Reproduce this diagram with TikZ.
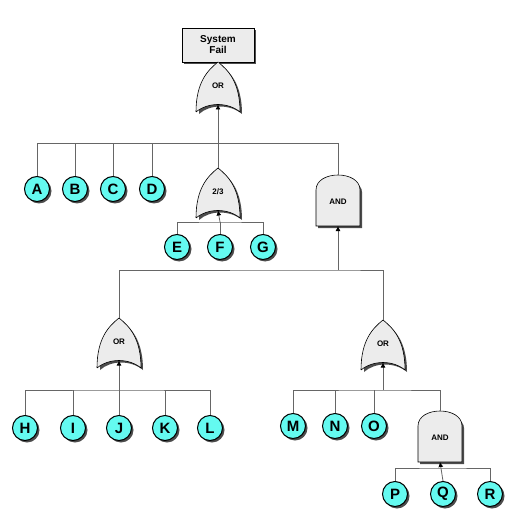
\documentclass[tikz,border=0pt]{standalone}
\usepackage{fontspec}
\setmainfont{Liberation Sans}
\usetikzlibrary{arrows.meta,positioning}
\definecolor{eventcyan}{RGB}{100,250,240}
\tikzset{
  wire/.style={draw=gray!80!black,line width=0.8pt},
  feed/.style={wire,-{Latex[length=5pt,width=5pt,black]}},
  event/.style={circle,minimum size=25pt,inner sep=0pt,fill=eventcyan,draw=black,line width=1pt,
    font=\bfseries\fontsize{15}{15}\selectfont},
  gatefill/.style={fill=gray!15,draw=black,line width=0.6pt},
  gatetext/.style={font=\bfseries\fontsize{8}{9}\selectfont,inner sep=0pt},
  pics/orgate/.style={code={
    \fill[gray!60!black] (-19,2) .. controls (-19,-28) and (-8,-40) .. (2,-48)
      .. controls (12,-40) and (24,-28) .. (24,2) .. controls (12,-8) and (-8,-8) .. (-19,2);
    \path[gatefill] (-22,0) .. controls (-22,-30) and (-10,-42) .. (0,-50)
      .. controls (10,-42) and (22,-30) .. (22,0) .. controls (10,-10) and (-10,-10) .. (-22,0);
    \node[gatetext] at (0,-26) {#1};
    \coordinate (-top) at (0,-50);
    \coordinate (-bot) at (0,-7.5);
  }},
  pics/andgate/.style={code={
    \fill[gray!60!black] (-20,2) -- (-20,-34) .. controls (-20,-50) and (24,-50) .. (24,-34) -- (24,2) -- cycle;
    \path[gatefill] (-22,0) -- (-22,-36) .. controls (-22,-56) and (22,-56) .. (22,-36) -- (22,0) -- cycle;
    \node[gatetext] at (0,-24) {#1};
    \coordinate (-top) at (0,-51);
    \coordinate (-bot) at (0,0);
  }}
}
\begin{document}
\begin{tikzpicture}[x=1pt,y=-1pt]
\useasboundingbox (0,0) rectangle (519,526);
% top event
\fill[gray!60!black] (184,30) rectangle (256,64);
\node[draw=black,fill=gray!15,minimum width=72pt,minimum height=34pt,inner sep=0pt,align=center,
  font=\bfseries\fontsize{10}{11}\selectfont] (top) at (218,45) {System\\Fail};
\pic (g1) at (218,112) {orgate=OR};
\pic (g2) at (218,218) {orgate=2/3};
\pic (g3) at (338,226) {andgate=AND};
\pic (g4) at (119,368) {orgate=OR};
\pic (g5) at (383,370) {orgate=OR};
\pic (g6) at (440,462) {andgate=AND};
% basic events
\foreach \n/\x/\y in {A/37/189,B/75/189,C/113/189,D/152/189,E/177/247,F/220/247,G/263/247,
  H/25/428,I/73/428,J/119/428,K/165/428,L/210/428,M/293/426,N/335/426,O/374/426,
  P/395/494,Q/443/494,R/490/494}{
  \fill[gray!60!black] (\x+2,\y+2) circle (12.5pt);
  \node[event] (\n) at (\x,\y) {\n};
}
% connectors
\draw[wire] (top) -- (g1-top);
\coordinate (b1) at (218,143);
\draw[feed] (b1) -- (g1-bot);
\draw[wire] (37,143) coordinate (b1l) -- (338,143) coordinate (b1r);
\foreach \n in {A,B,C,D}{\draw[wire] (\n.north) -- (\n.north |- b1l);}
\draw[wire] (b1) -- (g2-top);
\draw[wire] (b1r) -- (g3-top);
\coordinate (b2) at (220,222);
\draw[feed] (b2) -- (g2-bot);
\draw[wire] (E.north) |- (b2) -| (G.north);
\draw[wire] (F.north) -- (b2);
\coordinate (b3) at (338,270);
\draw[feed] (b3) -- (g3-bot);
\draw[wire] (g4-top) |- (b3) -| (g5-top);
\coordinate (b4) at (119,390);
\draw[feed] (J.north) -- (g4-bot);
\draw[wire] (H.north) |- (b4) -| (L.north);
\foreach \n in {I,K}{\draw[wire] (\n.north) -- (\n.north |- b4);}
\coordinate (b5) at (383,390);
\draw[feed] (b5) -- (g5-bot);
\draw[wire] (M.north) |- (b5) -| (g6-top);
\foreach \n in {N,O}{\draw[wire] (\n.north) -- (\n.north |- b5);}
\coordinate (b6) at (443,468);
\draw[feed] (Q.north) -- (g6-bot);
\draw[wire] (P.north) |- (b6) -| (R.north);
\end{tikzpicture}
\end{document}
